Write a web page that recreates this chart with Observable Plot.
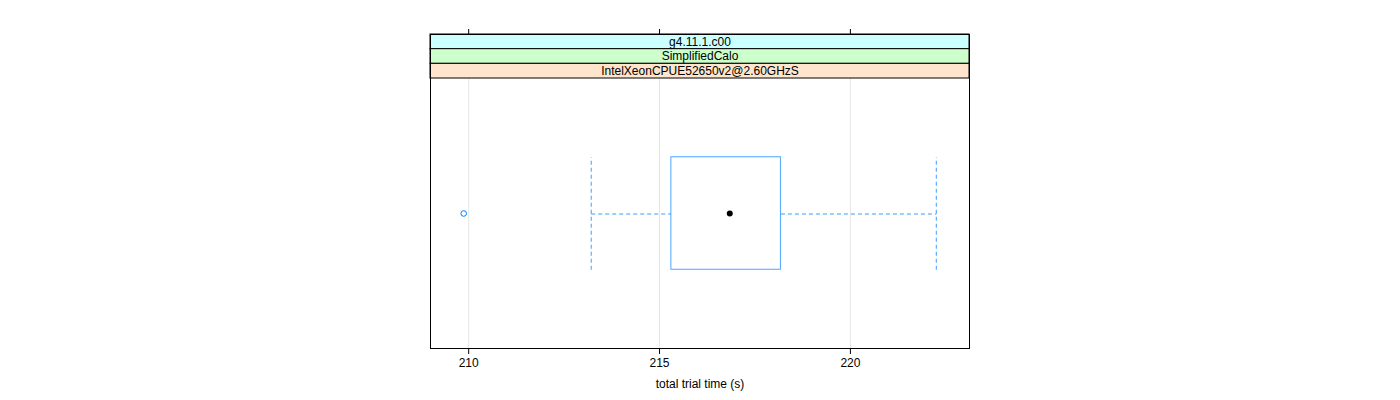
<!DOCTYPE html>
<html><head><meta charset="utf-8">
<script src="https://cdn.jsdelivr.net/npm/d3@7"></script>
<script src="https://cdn.jsdelivr.net/npm/@observablehq/plot@0.6"></script>
<style>
html,body{margin:0;padding:0;background:#fff;}
svg{font-family:"Liberation Sans",Arial,sans-serif;}
</style></head>
<body><div id="chart"></div>
<script>
// Strip labels (top to bottom) and their colours
const stripLabels = ["g4.11.1.c00", "SimplifiedCalo", "IntelXeonCPUE52650v2@2.60GHzS"];
const stripFills = ["#ccffff", "#ccffcc", "#ffe5cc"];
// Box-and-whisker statistics for total trial time (s)
const whiskerLow = 213.21;
const q1 = 215.31;
const median = 216.84;
const q3 = 218.18;
const whiskerHigh = 222.25;
const outliers = [209.87];
// Axis ticks
const xTicks = [210, 215, 220];
const xDomain = [209.0, 223.12];

const yLo = 0.4, yHi = 1.6;          // lattice panel range for one box
const sh = 0.0652;                    // strip height in y units
const yTop = yHi + stripLabels.length * sh;
const strips = stripLabels.map((label, i) => ({
  label, fill: stripFills[i],
  y2: yTop - i * sh, y1: yTop - (i + 1) * sh
}));
const xMid = (xDomain[0] + xDomain[1]) / 2;
const whiskerSegs = [{a: whiskerLow, b: q1}, {a: q3, b: whiskerHigh}];
const blue = "#3d9bff";

const chart = Plot.plot({
  width: 1400, height: 400,
  marginLeft: 430, marginRight: 431, marginTop: 34, marginBottom: 52,
  x: {domain: xDomain},
  y: {domain: [yLo, yTop], axis: null},
  style: {fontFamily: '"Liberation Sans",Arial,sans-serif', fontSize: "12px", color: "#000"},
  marks: [
    Plot.ruleX(xTicks, {x: d => d, y1: yLo, y2: yHi, stroke: "#e6e6e6"}),
    Plot.rect(strips, {x1: xDomain[0], x2: xDomain[1], y1: "y1", y2: "y2", fill: "fill", stroke: "#000", strokeWidth: 1}),
    Plot.text(strips, {x: xMid, y: d => (d.y1 + d.y2) / 2, text: "label", fontSize: 12, fill: "#000"}),
    Plot.link(whiskerSegs, {x1: "a", x2: "b", y1: 1, y2: 1, dy: 0.5, stroke: blue, strokeWidth: 1, strokeDasharray: "4,3"}),
    Plot.link([whiskerLow, whiskerHigh], {x1: d => d, x2: d => d, y1: 0.75, y2: 1.25, stroke: blue, strokeDasharray: "4,3"}),
    Plot.rect([{q1, q3}], {x1: "q1", x2: "q3", y1: 0.75, y2: 1.25, fill: "white", stroke: "#0080ff", strokeOpacity: 0.7}),
    Plot.dot([median], {x: d => d, y: 1, r: 3, fill: "#000", stroke: "none"}),
    Plot.dot(outliers, {x: d => d, y: 1, r: 2.8, fill: "none", stroke: "#0080ff", strokeWidth: 1}),
    Plot.frame({stroke: "#000", strokeWidth: 1}),
    Plot.axisX({anchor: "bottom", ticks: xTicks, tickSize: 6, tickPadding: 4, tickFormat: d => String(d), label: null, fontSize: 12}),
    Plot.axisX({anchor: "top", ticks: xTicks, tickSize: 6, tickFormat: () => "", label: null}),
    Plot.text(["total trial time (s)"], {frameAnchor: "bottom", x: xMid, dy: 39, fontSize: 12, fill: "#000"})
  ]
});
document.getElementById("chart").appendChild(chart);
</script>
</body></html>
